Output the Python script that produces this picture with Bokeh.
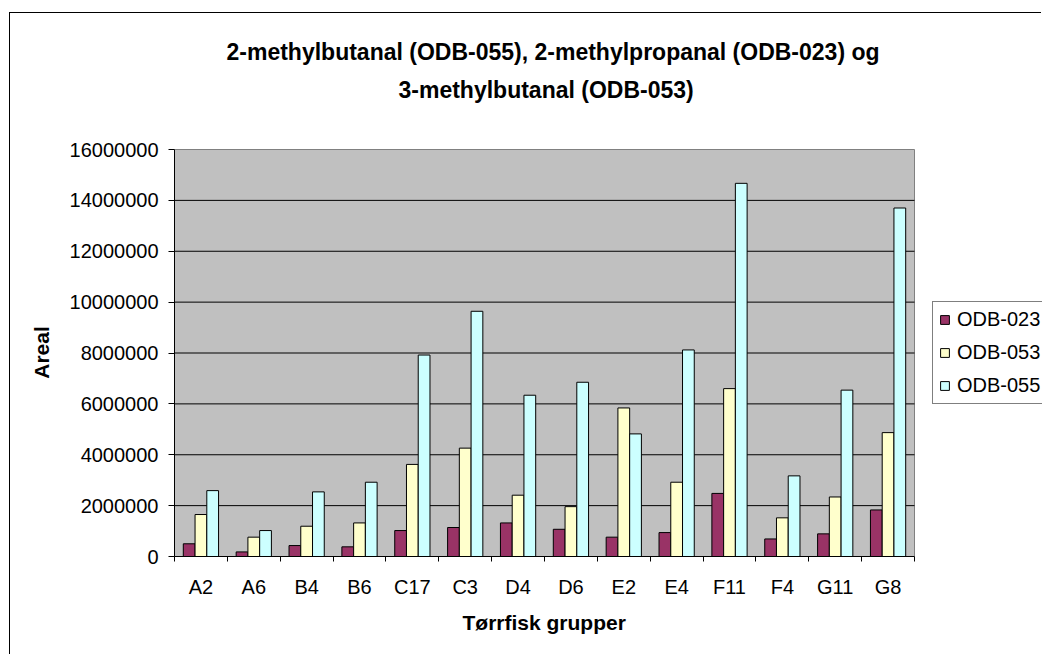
import numpy as np
from bokeh.plotting import figure
from bokeh.models import (Range1d, FixedTicker, Legend, LegendItem, Title,
                          NumeralTickFormatter, LinearAxis)
from bokeh.embed import file_html
from bokeh.resources import INLINE

groups = ["A2", "A6", "B4", "B6", "C17", "C3", "D4", "D6", "E2", "E4", "F11", "F4", "G11", "G8"]
series_names = ["ODB-023", "ODB-053", "ODB-055"]
odb023 = [500000, 180000, 430000, 380000, 1020000, 1140000, 1320000, 1070000, 760000, 940000, 2480000, 690000, 890000, 1830000]
odb053 = [1650000, 760000, 1190000, 1320000, 3620000, 4260000, 2410000, 1960000, 5840000, 2920000, 6600000, 1520000, 2340000, 4870000]
odb055 = [2590000, 1020000, 2540000, 2920000, 7920000, 9640000, 6340000, 6850000, 4820000, 8120000, 14670000, 3170000, 6540000, 13700000]
y_ticks = [0, 2000000, 4000000, 6000000, 8000000, 10000000, 12000000, 14000000, 16000000]
title_lines = ["2-methylbutanal (ODB-055), 2-methylpropanal (ODB-023) og", "3-methylbutanal (ODB-053)"]
x_title = "Tørrfisk grupper"
y_title = "Areal"

colors = ["#993366", "#FFFFCC", "#CCFFFF"]
FONT = "Liberation Sans"

n = len(groups)
y_max = y_ticks[-1]
# the frame spans the plot area plus the legend column on the right
CAT_PX = 740.0          # pixel width of the category area
FRAME_W = 1032 - 164    # frame width in pixels
p = figure(width=1032, height=642, output_backend="svg", toolbar_location=None,
           x_range=Range1d(0, n * FRAME_W / CAT_PX),
           y_range=Range1d(0, y_max * 408.0 / 407.0),
           min_border_left=164, min_border_right=0, min_border_top=135, min_border_bottom=99,
           background_fill_color="white", border_fill_color="white")
# chart-area frame (left and top edges visible, as in the reference)
p.styles = {"margin-left": "10px", "margin-top": "13px",
            "box-shadow": "-1px -1px 0px 0px black"}
p.outline_line_color = None

# grey plot area
p.quad(left=0, right=n, bottom=0, top=y_max, fill_color="#C0C0C0", line_color="#808080", line_width=1)
# horizontal gridlines
grid_vals = y_ticks[1:-1]
p.segment(x0=[0] * len(grid_vals), x1=[n] * len(grid_vals), y0=grid_vals, y1=grid_vals,
          line_color="black", line_width=1)

centers = np.arange(n) + 0.5
bw = 1 / 4.5
series = [odb023, odb053, odb055]
renderers = []
for i, (vals, col) in enumerate(zip(series, colors)):
    r = p.vbar(x=centers + (i - 1) * bw, width=bw, top=vals, bottom=0,
               fill_color=col, line_color="black", line_width=1)
    renderers.append(r)

p.xgrid.visible = False
p.ygrid.visible = False

# x axis: labels at centers, tick marks at category boundaries
p.xaxis.bounds = (0, n)
p.xaxis.ticker = FixedTicker(ticks=list(centers), minor_ticks=list(range(n + 1)))
p.xaxis.major_label_overrides = {float(c): g for c, g in zip(centers, groups)}
p.xaxis.major_tick_out = 0
p.xaxis.major_tick_in = 0
p.xaxis.minor_tick_out = 5
p.xaxis.minor_tick_in = 0
p.xaxis.minor_tick_line_color = "black"
p.xaxis.axis_line_color = "black"
p.xaxis.major_label_text_font = FONT
p.xaxis.major_label_text_font_size = "20px"
p.xaxis.major_label_text_color = "black"
p.xaxis.major_label_standoff = 14

p.yaxis.bounds = (0, y_max)
p.yaxis.ticker = FixedTicker(ticks=y_ticks, minor_ticks=[])
p.yaxis.formatter = NumeralTickFormatter(format="0")
p.yaxis.major_tick_out = 6
p.yaxis.major_tick_in = 0
p.yaxis.major_tick_line_color = "black"
p.yaxis.axis_line_color = "black"
p.yaxis.major_label_text_font = FONT
p.yaxis.major_label_text_font_size = "20px"
p.yaxis.major_label_text_color = "black"
p.yaxis.major_label_standoff = 10
p.yaxis.axis_label = y_title
p.yaxis.axis_label_text_font = FONT
p.yaxis.axis_label_text_font_size = "21px"
p.yaxis.axis_label_text_font_style = "bold"
p.yaxis.axis_label_text_color = "black"
p.yaxis.axis_label_standoff = 14

# x-axis title, left-aligned with an offset so that it sits under the category area
p.add_layout(Title(text=x_title, align="left", vertical_align="top", offset=288, standoff=20,
                   text_font=FONT, text_font_size="21px", text_font_style="bold",
                   text_color="black"), "below")

legend = Legend(items=[LegendItem(label=s, renderers=[r]) for s, r in zip(series_names, renderers)],
                location=(758, 152))
legend.label_text_font = FONT
legend.label_text_font_size = "20px"
legend.label_text_color = "black"
legend.glyph_width = 11
legend.glyph_height = 11
legend.label_height = 23
legend.spacing = 10
legend.padding = 6
legend.margin = 0
legend.label_standoff = 7
legend.border_line_color = "black"
legend.border_line_width = 1
legend.background_fill_color = "white"
legend.background_fill_alpha = 1
p.add_layout(legend)

# invisible spacer between the frame and the two title lines
spacer = LinearAxis(ticker=FixedTicker(ticks=[0], minor_ticks=[]), major_tick_out=41, major_tick_in=0,
                    major_label_overrides={0: ""}, major_label_text_font_size="1px",
                    major_label_standoff=0, axis_label_standoff=0,
                    axis_line_color=None, major_tick_line_color=None, minor_tick_line_color=None)
p.add_layout(spacer, "above")

# two-line title: the added Title sits nearest the frame (after the spacer)
p.title.text = title_lines[0]
p.title.align = "left"
p.title.offset = 52
p.title.standoff = 9
p.title.text_font = FONT
p.title.text_font_size = "23px"
p.title.text_font_style = "bold"
p.title.text_color = "black"
t2 = Title(text=title_lines[1], align="left", offset=224, standoff=10,
           text_font=FONT, text_font_size="23px", text_font_style="bold", text_color="black")
p.add_layout(t2, "above")

open("out.html", "w").write(file_html(p, INLINE))
